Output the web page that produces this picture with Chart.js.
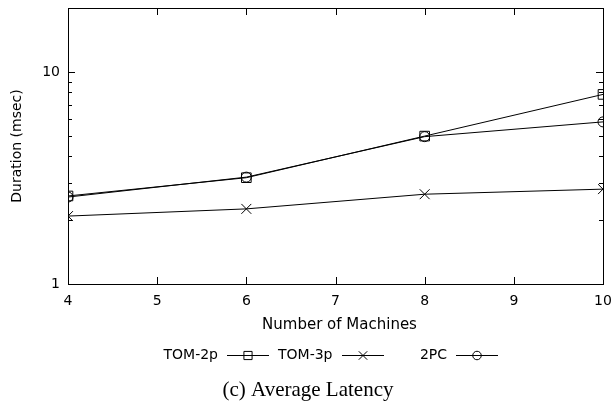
<!DOCTYPE html>
<html>
<head>
<meta charset="utf-8">
<script src="https://cdn.jsdelivr.net/npm/chart.js@4"></script>
<style>
  html, body { margin: 0; padding: 0; background: #fff; }
  #wrap { width: 614px; height: 402px; position: relative; }
</style>
</head>
<body>
<div id="wrap"><canvas id="latencyChart"></canvas></div>
<script>
// Average latency vs. cluster size
const machines = [4, 6, 8, 10];
const tom2p = [2.60, 3.17, 4.98, 7.83];
const tom3p = [2.09, 2.26, 2.65, 2.80];
const twoPC = [2.57, 3.19, 4.95, 5.81];

const seriesLabels = ['TOM-2p', 'TOM-3p', '2PC'];
const pointStyles = ['rect', 'crossRot', 'circle'];
const pointSizes = [6.8, 7, 5];

const yLabelTicks = [1, 10];
const minorTicks = [2, 3, 4, 5, 6, 7, 8, 9];

const xTitle = 'Number of Machines';
const yTitle = 'Duration (msec)';
const caption = '(c) Average Latency';

const sans = '"DejaVu Sans"';
const axisFont = { family: 'DejaVu Sans', size: 14 };

function makeDataset(i, values) {
    return {
        label: seriesLabels[i],
        data: machines.map((m, k) => ({ x: m, y: values[k] })),
        borderColor: '#000',
        borderWidth: 1,
        backgroundColor: 'rgba(0,0,0,0)',
        pointStyle: pointStyles[i],
        pointRadius: pointSizes[i],
        pointBorderColor: '#000',
        pointBorderWidth: 1,
        pointBackgroundColor: 'rgba(0,0,0,0)',
        tension: 0,
        fill: false
    };
}

// Frame, inward ticks, titles, legend row and caption in gnuplot style
const framePlugin = {
    id: 'frame',
    afterDatasetsDraw(chart) {
        const { ctx, chartArea: a, scales } = chart;
        const xs = scales.x, ys = scales.y;
        ctx.save();
        ctx.strokeStyle = '#000';
        ctx.lineWidth = 1;
        ctx.strokeRect(Math.round(a.left) + 0.5, Math.round(a.top) + 0.5,
            Math.round(a.right - a.left), Math.round(a.bottom - a.top));

        ctx.beginPath();
        // x major ticks, top and bottom
        for (let v = xs.min + 1; v < xs.max; v++) {
            const px = Math.round(xs.getPixelForValue(v)) + 0.5;
            ctx.moveTo(px, a.bottom); ctx.lineTo(px, a.bottom - 7);
            ctx.moveTo(px, a.top); ctx.lineTo(px, a.top + 7);
        }
        // y major ticks
        yLabelTicks.forEach(v => {
            const py = Math.round(ys.getPixelForValue(v)) + 0.5;
            ctx.moveTo(a.left, py); ctx.lineTo(a.left + 7, py);
            ctx.moveTo(a.right, py); ctx.lineTo(a.right - 7, py);
        });
        // y minor ticks
        [1, 10].forEach(dec => {
            minorTicks.forEach(m => {
                const v = m * dec;
                if (v > ys.max) return;
                const py = Math.round(ys.getPixelForValue(v)) + 0.5;
                ctx.moveTo(a.left, py); ctx.lineTo(a.left + 4, py);
                ctx.moveTo(a.right, py); ctx.lineTo(a.right - 4, py);
            });
        });
        ctx.stroke();
        ctx.restore();
    },
    afterDraw(chart) {
        const { ctx, chartArea: a } = chart;
        ctx.save();
        ctx.fillStyle = '#000';
        ctx.strokeStyle = '#000';
        ctx.lineWidth = 1;
        ctx.textBaseline = 'middle';

        // axis titles
        ctx.textAlign = 'center';
        ctx.font = '15px ' + sans;
        ctx.fillText(xTitle, (a.left + a.right) / 2 + 4, 325);
        ctx.save();
        ctx.translate(17, (a.top + a.bottom) / 2);
        ctx.rotate(-Math.PI / 2);
        ctx.font = '14px ' + sans;
        ctx.fillText(yTitle, 0, 0);
        ctx.restore();

        // legend: label text right-aligned, then a line sample with the marker
        const legendY = 355;
        ctx.font = '14px ' + sans;
        ctx.textAlign = 'right';
        chart.data.datasets.forEach((ds, i) => {
            const textEnd = 218 + i * 114.5;
            ctx.fillStyle = '#000';
            ctx.fillText(ds.label, textEnd, legendY);
            const x0 = Math.round(textEnd + 9), x1 = Math.round(textEnd + 51);
            ctx.beginPath();
            ctx.moveTo(x0, legendY + 0.5);
            ctx.lineTo(x1, legendY + 0.5);
            ctx.stroke();
            ctx.fillStyle = 'rgba(0,0,0,0)';
            Chart.helpers.drawPoint(ctx, {
                pointStyle: ds.pointStyle,
                radius: ds.pointRadius * 0.85,
                borderWidth: 1
            }, (x0 + x1) / 2, legendY + 0.5);
        });

        // caption
        ctx.fillStyle = '#000';
        ctx.font = '21px "Liberation Serif"';
        ctx.textAlign = 'center';
        ctx.fillText(caption, 308, 390);
        ctx.restore();
    }
};

new Chart(document.getElementById('latencyChart'), {
    type: 'line',
    data: {
        datasets: [
            makeDataset(0, tom2p),
            makeDataset(1, tom3p),
            makeDataset(2, twoPC)
        ]
    },
    options: {
        responsive: true,
        maintainAspectRatio: false,
        animation: false,
        layout: { padding: { top: 8, right: 11, left: 0, bottom: 0 } },
        plugins: {
            legend: { display: false },
            tooltip: { enabled: false }
        },
        scales: {
            x: {
                type: 'linear',
                min: 4,
                max: 10,
                grid: { display: false, drawTicks: false },
                border: { display: false },
                ticks: {
                    stepSize: 1,
                    color: '#000',
                    font: axisFont,
                    padding: 9,
                    maxRotation: 0
                },
                afterFit(scale) {
                    scale.height = 118;
                    scale.paddingLeft = 0;
                    scale.paddingRight = 0;
                }
            },
            y: {
                type: 'logarithmic',
                min: 1,
                max: 20,
                grid: { display: false, drawTicks: false },
                border: { display: false },
                afterBuildTicks(scale) {
                    scale.ticks = yLabelTicks.map(v => ({ value: v }));
                },
                ticks: {
                    autoSkip: false,
                    color: '#000',
                    font: axisFont,
                    padding: 8,
                    callback: v => String(v)
                },
                afterFit(scale) {
                    scale.width = 68;
                    scale.paddingTop = 0;
                    scale.paddingBottom = 0;
                }
            }
        }
    },
    plugins: [framePlugin]
});
</script>
</body>
</html>
